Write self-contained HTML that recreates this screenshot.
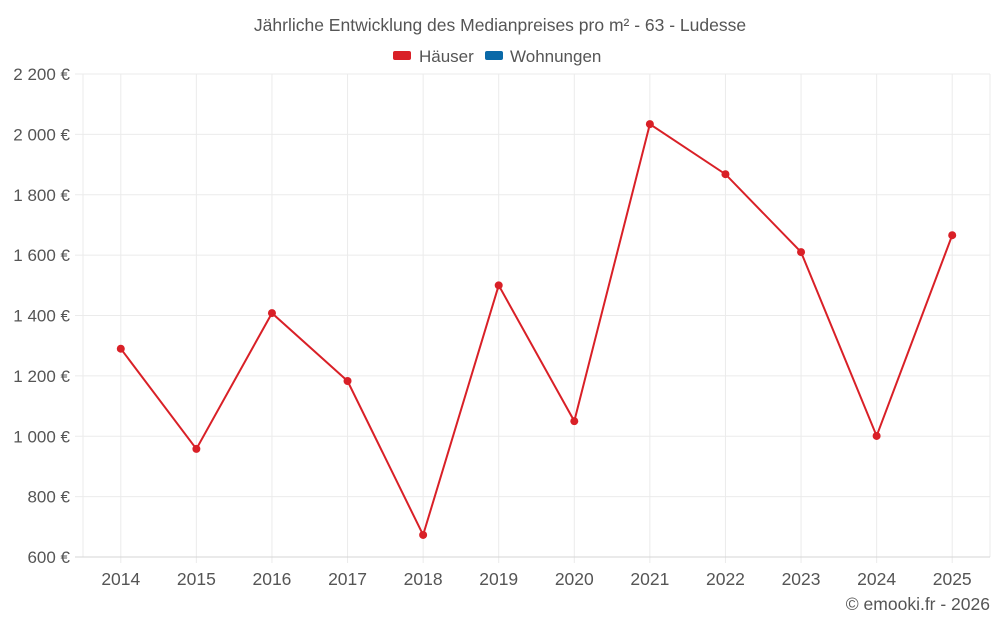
<!DOCTYPE html>
<html><head><meta charset="utf-8">
<style>
body{margin:0;background:#fff;font-family:"Liberation Sans",sans-serif;}
svg{display:block}
text{font-family:"Liberation Sans",sans-serif;fill:#555}
</style></head>
<body>
<svg id="chart" width="1000" height="625">
<text x="500" y="31" text-anchor="middle" font-size="17.5">Jährliche Entwicklung des Medianpreises pro m² - 63 - Ludesse</text>
<g>
<g><rect x="393" y="51" width="18" height="9" rx="2" fill="#d92027"/><text x="419" y="62" font-size="17">Häuser</text></g>
<g><rect x="485" y="51" width="18" height="9" rx="2" fill="#0a69a8"/><text x="510" y="62" font-size="17">Wohnungen</text></g>
</g>
<g id="grid"></g><g id="axes"></g><g id="series"></g>
<text x="990" y="610" text-anchor="end" font-size="17.5">© emooki.fr - 2026</text>
</svg>
<script>
const years=[2014,2015,2016,2017,2018,2019,2020,2021,2022,2023,2024,2025];
const houses=[1290,958,1408,1183,673,1500,1050,2034,1868,1610,1001,1666];
const yTicks=[600,800,1000,1200,1400,1600,1800,2000,2200];
const yTickLabels=["600 €","800 €","1 000 €","1 200 €","1 400 €","1 600 €","1 800 €","2 000 €","2 200 €"];
const NS="http://www.w3.org/2000/svg";
const L=83,R=990,T=74,B=557,yMin=600,yMax=2200;
const band=(R-L)/years.length;
const x=i=>L+band*(i+0.5);
const y=v=>B-(v-yMin)/(yMax-yMin)*(B-T);
function mk(tag,attrs,parent){const e=document.createElementNS(NS,tag);for(const k in attrs)e.setAttribute(k,attrs[k]);parent.appendChild(e);return e;}
const grid=document.getElementById('grid'),axes=document.getElementById('axes'),series=document.getElementById('series');
[L,R].forEach(px=>{
 const l=mk('line',{x1:px,x2:px,y1:T,y2:B,stroke:'#ebebeb'},grid);
 
 
});
years.forEach((yr,i)=>{
 const l=mk('line',{x1:x(i),x2:x(i),y1:T,y2:B+6,stroke:'#ebebeb'},grid);
 
 
 const tx=mk('text',{x:x(i),y:585,'text-anchor':'middle','font-size':'17.5'},axes);
 tx.textContent=yr;
 
 
});
yTicks.forEach((t,i)=>{
 const l=mk('line',{x1:L-8,x2:R,y1:y(t),y2:y(t),stroke:i===0?'#d5d5d5':'#ebebeb'},grid);
 
 
 const tx=mk('text',{x:70,y:y(t)+6,'text-anchor':'end','font-size':'17'},axes);
 tx.textContent=yTickLabels[i];
 
 
});
const p=mk('polyline',{points:houses.map((v,i)=>x(i)+','+y(v)).join(' '),fill:'none',stroke:'#d92027','stroke-width':2},series);


houses.forEach((v,i)=>{
 const c=mk('circle',{cx:x(i),cy:y(v),r:4,fill:'#d92027'},series);
 
 
});
</script>
</body></html>
